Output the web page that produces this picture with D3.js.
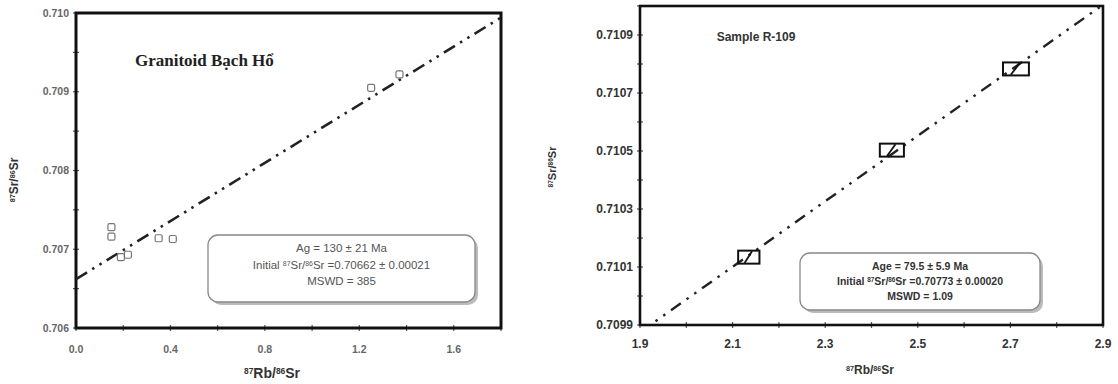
<!DOCTYPE html>
<html>
<head>
<meta charset="utf-8">
<script src="https://cdn.jsdelivr.net/npm/d3@7"></script>
<style>
  body { margin: 0; background: #fff; }
  svg { display: block; }
</style>
</head>
<body>
<svg id="chart" width="1118" height="384"></svg>
<script>
// left panel: Granitoid Bach Ho
const leftXTicks = [0.0, 0.4, 0.8, 1.2, 1.6];
const leftYTicks = [0.706, 0.707, 0.708, 0.709, 0.710];
// samples drawn as small error boxes [Rb/Sr, Sr/Sr]
const leftPoints = [
  [0.15, 0.70728], [0.15, 0.70716], [0.19, 0.70690], [0.22, 0.70693],
  [0.35, 0.70714], [0.41, 0.70713], [1.25, 0.70905], [1.37, 0.70922]
];
const leftIntercept = 0.70662;
const leftSlope = 0.001846;

// right panel: Sample R-109
const rightXTicks = [1.9, 2.1, 2.3, 2.5, 2.7, 2.9];
const rightYTicks = [0.7099, 0.7101, 0.7103, 0.7105, 0.7107, 0.7109];
const rightPoints = [[2.135, 0.710134], [2.444, 0.710503], [2.712, 0.710783]];
const rightErrX = [0.023, 0.026, 0.028];
const rightErrY = [0.0000224, 0.0000224, 0.0000224];
const rightIntercept = 0.70773;
const rightSlope = 0.001129;

const svg = d3.select('#chart');

function supLabel(sel, parts, size) {
  // parts: [[text, isSup], ...]
  parts.forEach(([t, sup]) => {
    sel.append('tspan')
      .attr('font-size', sup ? size * 0.6 : size)
      .attr('baseline-shift', sup ? '45%' : null)
      .text(t);
  });
}

function drawPanel(cfg) {
  const x = d3.scaleLinear().domain(cfg.xDomain).range([cfg.left, cfg.right]);
  const y = d3.scaleLinear().domain(cfg.yDomain).range([cfg.bottom, cfg.top]);
  const g = svg.append('g');

  // minor + major ticks on bottom and left
  const xt = d3.range(cfg.xDomain[0], cfg.xDomain[1] + 1e-9, cfg.xMinor);
  const yt = d3.range(cfg.yDomain[0], cfg.yDomain[1] + 1e-12, cfg.yMinor);
  g.selectAll('.xtick').data(xt).enter().append('line')
    .attr('x1', d => x(d)).attr('x2', d => x(d))
    .attr('y1', cfg.bottom - 3).attr('y2', cfg.bottom + 3)
    .attr('stroke', '#555').attr('stroke-width', 1.2);
  g.selectAll('.ytick').data(yt).enter().append('line')
    .attr('y1', d => y(d)).attr('y2', d => y(d))
    .attr('x1', cfg.left - 3).attr('x2', cfg.left + 3)
    .attr('stroke', '#555').attr('stroke-width', 1.2);

  // frame
  g.append('rect')
    .attr('x', cfg.left).attr('y', cfg.top)
    .attr('width', cfg.right - cfg.left).attr('height', cfg.bottom - cfg.top)
    .attr('fill', 'none').attr('stroke', '#111').attr('stroke-width', cfg.frameW);

  // tick labels
  g.selectAll('.xl').data(cfg.xTicks).enter().append('text')
    .attr('x', d => x(d)).attr('y', cfg.bottom + cfg.xLabelDy)
    .attr('text-anchor', 'middle')
    .attr('font-family', 'Liberation Sans, Arial, sans-serif')
    .attr('font-weight', 'bold').attr('font-size', cfg.tickSize)
    .attr('fill', cfg.tickColor)
    .text(d => d3.format(cfg.xFmt)(d));
  g.selectAll('.yl').data(cfg.yTicks).enter().append('text')
    .attr('x', cfg.left - 7).attr('y', d => y(d))
    .attr('dy', '0.35em').attr('text-anchor', 'end')
    .attr('font-family', 'Liberation Sans, Arial, sans-serif')
    .attr('font-weight', 'bold').attr('font-size', cfg.tickSize)
    .attr('fill', cfg.tickColor)
    .text(d => d3.format(cfg.yFmt)(d));

  // axis titles
  const xt2 = g.append('text')
    .attr('x', cfg.xTitle[0]).attr('y', cfg.xTitle[1])
    .attr('text-anchor', 'middle')
    .attr('font-family', 'Liberation Sans, Arial, sans-serif')
    .attr('font-weight', 'bold').attr('fill', '#333');
  supLabel(xt2, [['87', true], ['Rb/', false], ['86', true], ['Sr', false]], cfg.titleSize);
  const yt2 = g.append('text')
    .attr('transform', `translate(${cfg.yTitle[0]},${cfg.yTitle[1]}) rotate(-90)`)
    .attr('text-anchor', 'middle')
    .attr('font-family', 'Liberation Sans, Arial, sans-serif')
    .attr('font-weight', 'bold').attr('fill', '#333');
  supLabel(yt2, [['87', true], ['Sr/', false], ['86', true], ['Sr', false]], cfg.yTitleSize);

  // isochron line, clipped to frame
  const clipId = 'clip' + cfg.id;
  svg.append('clipPath').attr('id', clipId).append('rect')
    .attr('x', cfg.left).attr('y', cfg.top)
    .attr('width', cfg.right - cfg.left).attr('height', cfg.bottom - cfg.top);
  const lineX = [cfg.xDomain[0], cfg.xDomain[1]];
  g.append('path')
    .datum(lineX.map(v => [v, cfg.intercept + cfg.slope * v]))
    .attr('clip-path', `url(#${clipId})`)
    .attr('d', d3.line().x(d => x(d[0])).y(d => y(d[1])))
    .attr('fill', 'none').attr('stroke', '#222')
    .attr('stroke-width', cfg.lineW)
    .attr('stroke-dasharray', cfg.dash);

  return { g, x, y };
}

function infoBox(g, bx, by, bw, bh, lines, size, weight, color) {
  g.append('rect').attr('x', bx + 3).attr('y', by + 3).attr('width', bw).attr('height', bh)
    .attr('rx', 10).attr('fill', '#bbb');
  g.append('rect').attr('x', bx).attr('y', by).attr('width', bw).attr('height', bh)
    .attr('rx', 10).attr('fill', '#fff').attr('stroke', '#888').attr('stroke-width', 1.3);
  lines.forEach((parts, i) => {
    const t = g.append('text')
      .attr('x', bx + bw / 2).attr('y', by + 17 + i * size * 1.45)
      .attr('text-anchor', 'middle')
      .attr('font-family', 'Liberation Sans, Arial, sans-serif')
      .attr('font-weight', weight).attr('fill', color);
    supLabel(t, parts, size);
  });
}

// ---------- left panel ----------
const L = drawPanel({
  id: 'L', left: 76, right: 501, top: 13, bottom: 328,
  xDomain: [0, 1.8], yDomain: [0.706, 0.710], xMinor: 0.2, yMinor: 0.0005,
  xTicks: leftXTicks, yTicks: leftYTicks, xFmt: '.1f', yFmt: '.3f',
  xLabelDy: 25, tickSize: 10.5, tickColor: '#666', frameW: 3,
  xTitle: [272, 378], yTitle: [18, 180], titleSize: 14, yTitleSize: 12,
  intercept: leftIntercept, slope: leftSlope, lineW: 2.6,
  dash: '13,6,2.5,6,2.5,6'
});
L.g.selectAll('.pt').data(leftPoints).enter().append('rect')
  .attr('x', d => L.x(d[0]) - 3.5).attr('y', d => L.y(d[1]) - 3.5)
  .attr('width', 7).attr('height', 7).attr('rx', 1.5)
  .attr('fill', 'none').attr('stroke', '#777').attr('stroke-width', 1.2);

L.g.append('text')
  .attr('x', 135).attr('y', 66)
  .attr('font-family', 'Liberation Serif, Times New Roman, serif')
  .attr('font-weight', 'bold').attr('font-size', 17).attr('fill', '#222')
  .text('Granitoid Bạch Hổ');

infoBox(L.g, 208, 235, 267, 67, [
  [['Ag = 130 ± 21 Ma', false]],
  [['Initial ', false], ['87', true], ['Sr/', false], ['86', true], ['Sr =0.70662 ± 0.00021', false]],
  [['MSWD = 385', false]]
], 11.5, 'normal', '#555');

// ---------- right panel ----------
const R = drawPanel({
  id: 'R', left: 640, right: 1103, top: 6, bottom: 325,
  xDomain: [1.9, 2.9], yDomain: [0.7099, 0.7110], xMinor: 0.1, yMinor: 0.0001,
  xTicks: rightXTicks, yTicks: rightYTicks, xFmt: '.1f', yFmt: '.4f',
  xLabelDy: 23, tickSize: 12, tickColor: '#333', frameW: 2.6,
  xTitle: [870, 374], yTitle: [556, 167], titleSize: 12, yTitleSize: 11,
  intercept: rightIntercept, slope: rightSlope, lineW: 2.4,
  dash: '12,7,2.5,7,2.5,7'
});
R.g.selectAll('.box').data(rightPoints).enter().append('rect')
  .attr('x', (d, i) => R.x(d[0] - rightErrX[i]))
  .attr('y', (d, i) => R.y(d[1] + rightErrY[i]))
  .attr('width', (d, i) => R.x(d[0] + rightErrX[i]) - R.x(d[0] - rightErrX[i]))
  .attr('height', (d, i) => R.y(d[1] - rightErrY[i]) - R.y(d[1] + rightErrY[i]))
  .attr('fill', 'none').attr('stroke', '#111').attr('stroke-width', 2);
// error correlation segment inside each box
R.g.selectAll('.corr').data(rightPoints).enter().append('line')
  .attr('x1', (d, i) => R.x(d[0] - rightErrX[i] * 0.4))
  .attr('y1', (d, i) => R.y(d[1] - rightErrY[i] * 0.9))
  .attr('x2', (d, i) => R.x(d[0] + rightErrX[i] * 0.3))
  .attr('y2', (d, i) => R.y(d[1] + rightErrY[i] * 0.9))
  .attr('stroke', '#111').attr('stroke-width', 1.8);

R.g.append('text')
  .attr('x', 756).attr('y', 41).attr('text-anchor', 'middle')
  .attr('font-family', 'Liberation Sans, Arial, sans-serif')
  .attr('font-weight', 'bold').attr('font-size', 12).attr('fill', '#333')
  .text('Sample R-109');

infoBox(R.g, 800, 253, 240, 57, [
  [['Age = 79.5 ± 5.9 Ma', false]],
  [['Initial ', false], ['87', true], ['Sr/', false], ['86', true], ['Sr =0.70773 ± 0.00020', false]],
  [['MSWD = 1.09', false]]
], 10.5, 'bold', '#333');
</script>
</body>
</html>
